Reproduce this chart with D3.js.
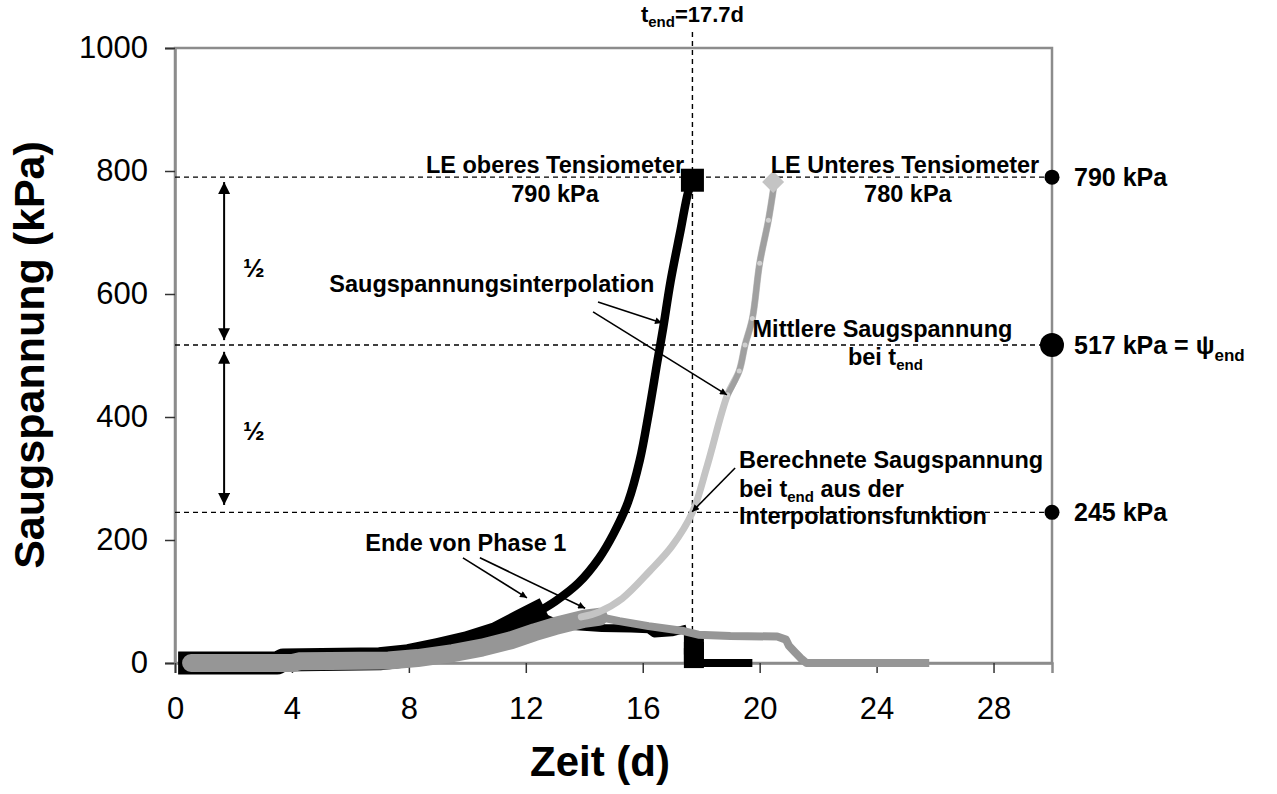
<!DOCTYPE html>
<html><head><meta charset="utf-8">
<script src="https://cdn.jsdelivr.net/npm/d3@7"></script>
<style>
body{margin:0;background:#fff}
svg{display:block}
text{font-family:"Liberation Sans",Arial,sans-serif;fill:#000}
</style>
</head><body>
<svg id="c" width="1277" height="794"></svg>
<script>
// ---------- data ----------
const xTicks = [0, 4, 8, 12, 16, 20, 24, 28];
const yTicks = [0, 200, 400, 600, 800, 1000];

// upper tensiometer (black), phase 1 measurements
const upperP1Days = [0.5, 3.5, 3.7, 7.0, 8.0, 9.0, 10.0, 11.0, 11.8, 12.3];
const upperP1Kpa  = [0,   0,   5,   7,   12,  22,  33,  48,  68,  80];
// upper tensiometer after phase 1
const upperAfterDays = [12.3, 12.9, 13.6, 14.6, 15.6, 16.2, 16.4, 17.0, 17.5];
const upperAfterKpa  = [80,   68,   60,   57,   56,   55,   48,   50,   56];
const upperDropDays = [17.75, 17.75, 17.75];
const upperDropKpa  = [30, 18, 8];
const upperZeroDays = [18.0, 19.75];
const upperZeroKpa  = [0, 0];
// upper tensiometer interpolation
const upperInterpDays = [12.3, 13.0, 13.8, 14.5, 15.0, 15.5, 15.9, 16.2, 16.5, 16.7, 16.95, 17.3, 17.55, 17.7];
const upperInterpKpa  = [80,   100,  130,  170,  210,  262,  330,  405,  490,  545,  620,   705,  765,   785];

// lower tensiometer (grey), phase 1 measurements
const lowerP1Days = [0.55, 4.0, 4.3, 7.3, 8.3, 9.5, 10.5, 11.5, 12.3, 13.0, 14.0, 14.5];
const lowerP1Kpa  = [0,    0,   3,   4,   8,   16,  25,   37,   50,   60,   72,   75];
// lower tensiometer after phase 1
const lowerAfterDays = [14.5, 15.2, 16.2, 17.4, 17.9, 19.0, 20.6, 20.9, 21.0, 21.2, 21.4, 21.6, 25.8];
const lowerAfterKpa  = [75,   68,   60,   52,   46,   44,   43,   38,   28,   18,   8,    0,    0];
// lower tensiometer interpolation
const lowerInterpDays = [13.9, 14.5, 15.3, 16.25, 17.0, 17.7, 18.2, 18.9, 19.3, 19.5, 19.75, 20.0, 20.3, 20.5];
const lowerInterpKpa  = [75,   83,   105,  150,   190,  245,  320,  436,  475,  517,  560,   650,  720,  780];

// limit values / reference levels
const tEnd = 17.7;
const levelValues = [790, 517, 245];
const levelLabels = ["790 kPa", "517 kPa = ψ", "245 kPa"];
const levelRadius = [7.5, 12, 7.5];
const endUpper = [17.7, 785];
const endLower = [20.46, 782];

// ---------- chart ----------
const svg = d3.select("#c");
const x = d3.scaleLinear().domain([0, 30]).range([175, 1052]);
const y = d3.scaleLinear().domain([0, 1000]).range([663, 48]);
const zip = (a, b) => a.map((v, i) => [v, b[i]]);
const line = d3.line().x(d => x(d[0])).y(d => y(d[1]));
const smooth = d3.line().x(d => x(d[0])).y(d => y(d[1])).curve(d3.curveCatmullRom.alpha(0.5));

// arrow marker
const defs = svg.append("defs");
defs.append("marker").attr("id", "ah").attr("viewBox", "0 0 10 10")
  .attr("refX", 10).attr("refY", 5).attr("markerWidth", 8).attr("markerHeight", 7)
  .attr("markerUnits", "userSpaceOnUse").attr("orient", "auto-start-reverse")
  .append("path").attr("d", "M0,0 L10,5 L0,10 z").attr("fill", "#000");
defs.append("marker").attr("id", "ah2").attr("viewBox", "0 0 10 10")
  .attr("refX", 10).attr("refY", 5).attr("markerWidth", 12).attr("markerHeight", 12)
  .attr("markerUnits", "userSpaceOnUse").attr("orient", "auto-start-reverse")
  .append("path").attr("d", "M0,0 L10,5 L0,10 z").attr("fill", "#000");

// plot border
svg.append("rect").attr("x", x(0)).attr("y", y(1000))
  .attr("width", x(30) - x(0)).attr("height", y(0) - y(1000))
  .attr("fill", "none").attr("stroke", "#8c8c8c").attr("stroke-width", 2.5);

// axes
const yAxis = svg.append("g").attr("transform", `translate(${x(0)},0)`)
  .call(d3.axisLeft(y).tickValues(yTicks).tickFormat(d3.format("d")).tickSize(10).tickPadding(17));
const xAxis = svg.append("g").attr("transform", `translate(0,${y(0)})`)
  .call(d3.axisBottom(x).tickValues(xTicks).tickFormat(d3.format("d")).tickSize(10).tickPadding(24));
[yAxis, xAxis].forEach(g => {
  g.select(".domain").attr("stroke", "#8c8c8c").attr("stroke-width", 2.5);
  g.selectAll(".tick line").attr("stroke", "#333").attr("stroke-width", 1.5);
  g.selectAll(".tick text").style("font-size", "31px").attr("fill", "#000")
    .style("font-family", '"Liberation Sans",Arial,sans-serif');
});

// axis titles
svg.append("text").attr("x", 600).attr("y", 776).attr("text-anchor", "middle")
  .style("font-size", "42px").style("font-weight", "bold").text("Zeit (d)");
svg.append("text").attr("transform", "translate(44,355) rotate(-90)").attr("text-anchor", "middle")
  .style("font-size", "43px").style("font-weight", "bold").text("Saugspannung (kPa)");

// dashed reference lines
const dash = "5,4";
levelValues.forEach(v => {
  svg.append("line").attr("x1", x(0)).attr("x2", x(30)).attr("y1", y(v)).attr("y2", y(v))
    .attr("stroke", "#000").attr("stroke-width", 1.4).attr("stroke-dasharray", dash);
});
svg.append("line").attr("x1", x(tEnd)).attr("x2", x(tEnd)).attr("y1", 32).attr("y2", y(0))
  .attr("stroke", "#000").attr("stroke-width", 1.4).attr("stroke-dasharray", dash);

// series: phase 1 bands
const black = "#000", grey = "#969696", light = "#c4c4c4";
svg.append("path").datum(zip(upperP1Days, upperP1Kpa)).attr("d", line)
  .attr("fill", "none").attr("stroke", black).attr("stroke-width", 23).attr("stroke-linecap", "square").attr("stroke-linejoin", "round");
svg.append("path").datum(zip(upperAfterDays, upperAfterKpa)).attr("d", line)
  .attr("fill", "none").attr("stroke", black).attr("stroke-width", 8).attr("stroke-linejoin", "round");
svg.append("g").selectAll("rect").data(zip(upperDropDays, upperDropKpa)).join("rect")
  .attr("x", d => x(d[0]) - 10).attr("y", d => y(d[1]) - 10).attr("width", 20).attr("height", 20).attr("fill", black);
svg.append("path").datum(zip(upperZeroDays, upperZeroKpa)).attr("d", line)
  .attr("fill", "none").attr("stroke", black).attr("stroke-width", 8);

svg.append("path").datum(zip(lowerP1Days, lowerP1Kpa)).attr("d", line)
  .attr("fill", "none").attr("stroke", grey).attr("stroke-width", 18).attr("stroke-linecap", "round").attr("stroke-linejoin", "round");
svg.append("path").datum(zip(lowerAfterDays, lowerAfterKpa)).attr("d", line)
  .attr("fill", "none").attr("stroke", grey).attr("stroke-width", 8).attr("stroke-linejoin", "round");

// interpolations
svg.append("path").datum(zip(lowerInterpDays, lowerInterpKpa)).attr("d", smooth)
  .attr("fill", "none").attr("stroke", light).attr("stroke-width", 7).attr("stroke-linecap", "round");
const upperSeg = zip(lowerInterpDays, lowerInterpKpa).filter(d => d[1] >= 436);
svg.append("path").datum(upperSeg).attr("d", smooth)
  .attr("fill", "none").attr("stroke", "#a0a0a0").attr("stroke-width", 6);
svg.append("g").selectAll("circle").data(upperSeg).join("circle")
  .attr("cx", d => x(d[0])).attr("cy", d => y(d[1])).attr("r", 2.5).attr("fill", "#d0d0d0");
svg.append("path").datum(zip(upperInterpDays, upperInterpKpa)).attr("d", smooth)
  .attr("fill", "none").attr("stroke", black).attr("stroke-width", 8.5);

// end markers
svg.append("rect").attr("x", x(endUpper[0]) - 11.5).attr("y", y(endUpper[1]) - 11.5)
  .attr("width", 23).attr("height", 23).attr("fill", black);
svg.append("path").attr("transform", `translate(${x(endLower[0])},${y(endLower[1])})`)
  .attr("d", "M0,-11 L11,0 L0,11 L-11,0 Z").attr("fill", light);

// right dots and labels
levelValues.forEach((v, i) => {
  svg.append("circle").attr("cx", x(30)).attr("cy", y(v)).attr("r", levelRadius[i]).attr("fill", "#000");
  const t = svg.append("text").attr("x", x(30) + 22).attr("y", y(v) + 9)
    .style("font-size", "25px").style("font-weight", "bold").text(levelLabels[i]);
  if (i === 1) t.append("tspan").attr("dy", 7).style("font-size", "17px").text("end");
});

// title
const tt = svg.append("text").attr("x", x(tEnd)).attr("y", 22).attr("text-anchor", "middle")
  .style("font-size", "22px").style("font-weight", "bold");
tt.append("tspan").text("t");
tt.append("tspan").attr("dy", 5).style("font-size", "15px").text("end");
tt.append("tspan").attr("dy", -5).text("=17.7d");

// annotations (in data coordinates)
const annFont = "23.5px";
function label(xd, yd, parts, anchor) {
  const t = svg.append("text").attr("x", x(xd)).attr("y", y(yd)).attr("text-anchor", anchor || "middle")
    .style("font-size", annFont).style("font-weight", "bold");
  parts.forEach(p => {
    if (p.sub) t.append("tspan").attr("dy", 5).style("font-size", "15px").text(p.t);
    else t.append("tspan").attr("dy", p.after ? -5 : 0).text(p.t);
  });
  return t;
}
label(13.0, 797, [{t: "LE oberes Tensiometer"}]);
label(13.0, 750, [{t: "790 kPa"}]);
label(24.97, 797, [{t: "LE Unteres Tensiometer"}]);
label(25.07, 750, [{t: "780 kPa"}]);
label(10.84, 603, [{t: "Saugspannungsinterpolation"}]);
label(24.2, 530, [{t: "Mittlere Saugspannung"}]);
label(24.3, 485, [{t: "bei t"}, {t: "end", sub: true}]);
label(19.29, 317, [{t: "Berechnete Saugspannung"}], "start");
label(19.29, 270, [{t: "bei t"}, {t: "end", sub: true}, {t: " aus der", after: true}], "start");
label(19.29, 226, [{t: "Interpolationsfunktion"}], "start");
label(9.95, 182, [{t: "Ende von Phase 1"}]);
label(2.33, 628, [{t: "½"}], "start").style("font-size", "26px");
label(2.33, 363, [{t: "½"}], "start").style("font-size", "26px");

const arrows = [
  [[14.47, 587], [16.66, 553]],
  [[14.30, 571], [18.88, 436]],
  [[19.16, 317], [17.69, 246]],
  [[9.85, 171], [12.04, 106]],
  [[10.43, 171], [14.03, 89]]
];
arrows.forEach(a => {
  svg.append("line").attr("x1", x(a[0][0])).attr("y1", y(a[0][1]))
    .attr("x2", x(a[1][0])).attr("y2", y(a[1][1]))
    .attr("stroke", "#000").attr("stroke-width", 1.6).attr("marker-end", "url(#ah)");
});
const dbl = [[782, 525], [506, 257]];
dbl.forEach(d => {
  svg.append("line").attr("x1", x(1.68)).attr("x2", x(1.68)).attr("y1", y(d[0])).attr("y2", y(d[1]))
    .attr("stroke", "#000").attr("stroke-width", 2)
    .attr("marker-start", "url(#ah2)").attr("marker-end", "url(#ah2)");
});
</script>
</body></html>
